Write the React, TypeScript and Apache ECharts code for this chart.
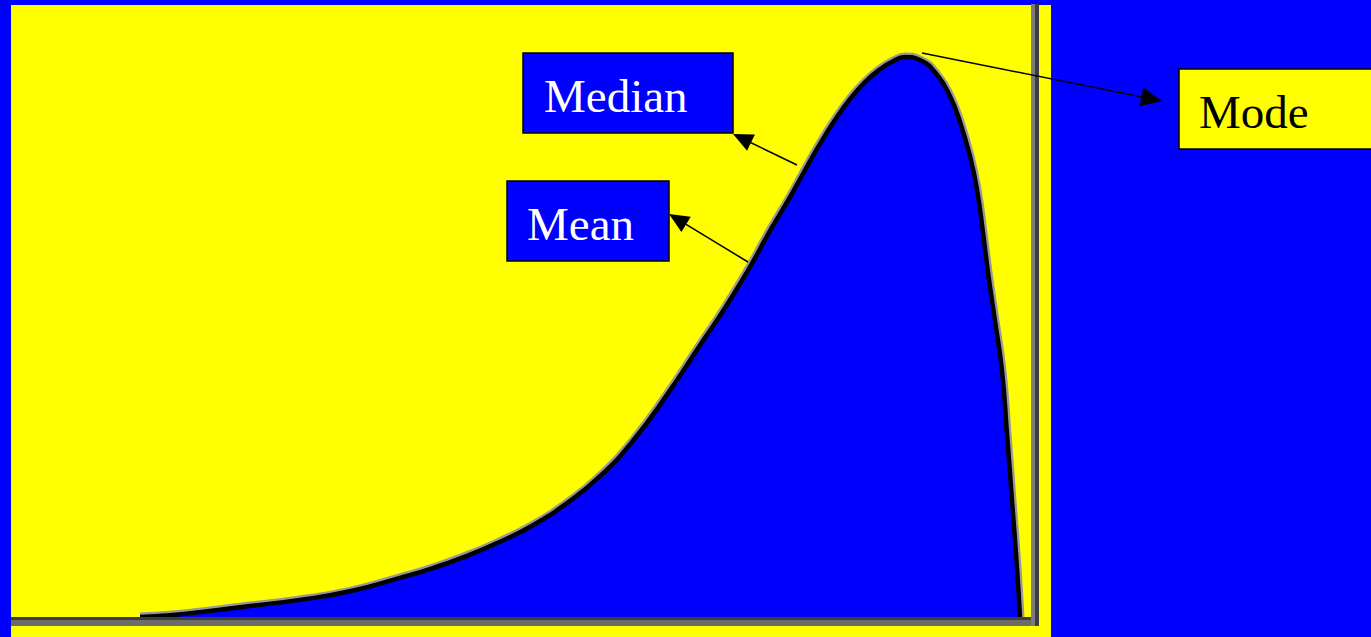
import React, { useEffect, useRef } from "react";
import * as echarts from "echarts";

// Curve (relative x position 0-100, relative frequency 0-100)
const curveX = [12.65, 15.59, 19.51, 23.43, 28.33, 33.24, 38.14, 41.37, 44.71, 47.94, 51.18, 54.51, 57.75, 60.98, 64.31, 67.55, 70.0, 72.45, 74.41, 76.37, 77.84, 79.31, 80.78, 82.25, 83.73, 85.2, 86.47, 87.65, 89.12, 90.78, 92.06, 93.04, 94.02, 94.71, 95.29, 95.78, 96.47, 97.16, 97.65, 98.14, 98.63, 98.92];
const curveY = [0, 0.3, 1.0, 1.8, 2.8, 4.2, 6.4, 8.0, 10.0, 12.3, 15.0, 18.6, 23.0, 28.8, 36.3, 44.4, 50.5, 57.2, 63.1, 68.6, 73.0, 77.3, 81.2, 84.6, 87.4, 89.5, 90.8, 91.5, 91.0, 88.6, 85.1, 80.9, 75.3, 69.8, 62.9, 56.4, 48.4, 40.2, 29.9, 19.0, 8.0, 0];

const labels = ["Median", "Mean", "Mode"];

const FONT = '"Liberation Serif", "Times New Roman", serif';

function arrow(tail: number[], tip: number[], len: number, half: number) {
  const dx = tip[0] - tail[0];
  const dy = tip[1] - tail[1];
  const L = Math.sqrt(dx * dx + dy * dy);
  const ux = dx / L, uy = dy / L;
  const bx = tip[0] - ux * len, by = tip[1] - uy * len;
  const px = -uy, py = ux;
  return [
    {
      type: "line",
      z: 30,
      shape: { x1: tail[0], y1: tail[1], x2: bx, y2: by },
      style: { stroke: "#000", lineWidth: 1.5 },
    },
    {
      type: "polygon",
      z: 30,
      shape: { points: [tip, [bx + px * half, by + py * half], [bx - px * half, by - py * half]] },
      style: { fill: "#000" },
    },
  ];
}

export default function App() {
  const ref = useRef<HTMLDivElement>(null);
  useEffect(() => {
    if (!ref.current) return;
    const chart = echarts.init(ref.current, undefined, { renderer: "svg" });
    const data = curveX.map((x, i) => [x, curveY[i]]);
    const graphic: any[] = [
      { type: "rect", z: -10, shape: { x: 11, y: 5, width: 1040, height: 632 }, style: { fill: "#FFFF00" } },
      { type: "rect", z: 10, shape: { x: 11, y: 617, width: 1028, height: 3 }, style: { fill: "#3d3d3d" } },
      { type: "rect", z: 10, shape: { x: 11, y: 620, width: 1028, height: 6 }, style: { fill: "#6b6b6b" } },
      { type: "rect", z: 10, shape: { x: 1031, y: 4, width: 4, height: 622 }, style: { fill: "#7a7a7a" } },
      { type: "rect", z: 10, shape: { x: 1035, y: 4, width: 4, height: 622 }, style: { fill: "#3d3d3d" } },
      // Median box
      { type: "rect", z: 20, shape: { x: 523, y: 53, width: 210, height: 80 }, style: { fill: "#0000FF", stroke: "#000", lineWidth: 1.5 } },
      { type: "text", z: 21, x: 544, y: 96, style: { text: labels[0], fill: "#fff", font: `47px ${FONT}`, verticalAlign: "middle" } },
      // Mean box
      { type: "rect", z: 20, shape: { x: 507, y: 181, width: 162, height: 80 }, style: { fill: "#0000FF", stroke: "#000", lineWidth: 1.5 } },
      { type: "text", z: 21, x: 527, y: 224, style: { text: labels[1], fill: "#fff", font: `47px ${FONT}`, verticalAlign: "middle" } },
      // Mode box
      { type: "rect", z: 20, shape: { x: 1179, y: 69, width: 210, height: 80 }, style: { fill: "#FFFF00", stroke: "#000", lineWidth: 1.5 } },
      { type: "text", z: 21, x: 1199, y: 112, style: { text: labels[2], fill: "#000", font: `47px ${FONT}`, verticalAlign: "middle" } },
      ...arrow([797, 165], [733, 134], 20, 9),
      ...arrow([748, 262], [669, 214], 20, 9),
      ...arrow([922, 53], [1162, 101], 21, 9.5),
    ];
    chart.setOption({
      animation: false,
      backgroundColor: "#0000FF",
      grid: { left: 11, top: 5, width: 1020, height: 612 },
      xAxis: { type: "value", min: 0, max: 100, show: false },
      yAxis: { type: "value", min: 0, max: 100, show: false },
      graphic,
      series: [
        {
          type: "line",
          data,
          z: 2,
          smooth: 0.5,
          symbol: "none",
          lineStyle: { color: "#999999", width: 9 },
          silent: true,
        },
        {
          type: "line",
          data,
          z: 3,
          smooth: 0.5,
          symbol: "none",
          lineStyle: { color: "#000", width: 4.5 },
          areaStyle: { color: "#0000FF", opacity: 1 },
          silent: true,
        },
      ],
    });
    return () => chart.dispose();
  }, []);
  return (
    <div
      ref={ref}
      style={{ position: "fixed", left: 0, top: 0, width: 1371, height: 637 }}
    />
  );
}
